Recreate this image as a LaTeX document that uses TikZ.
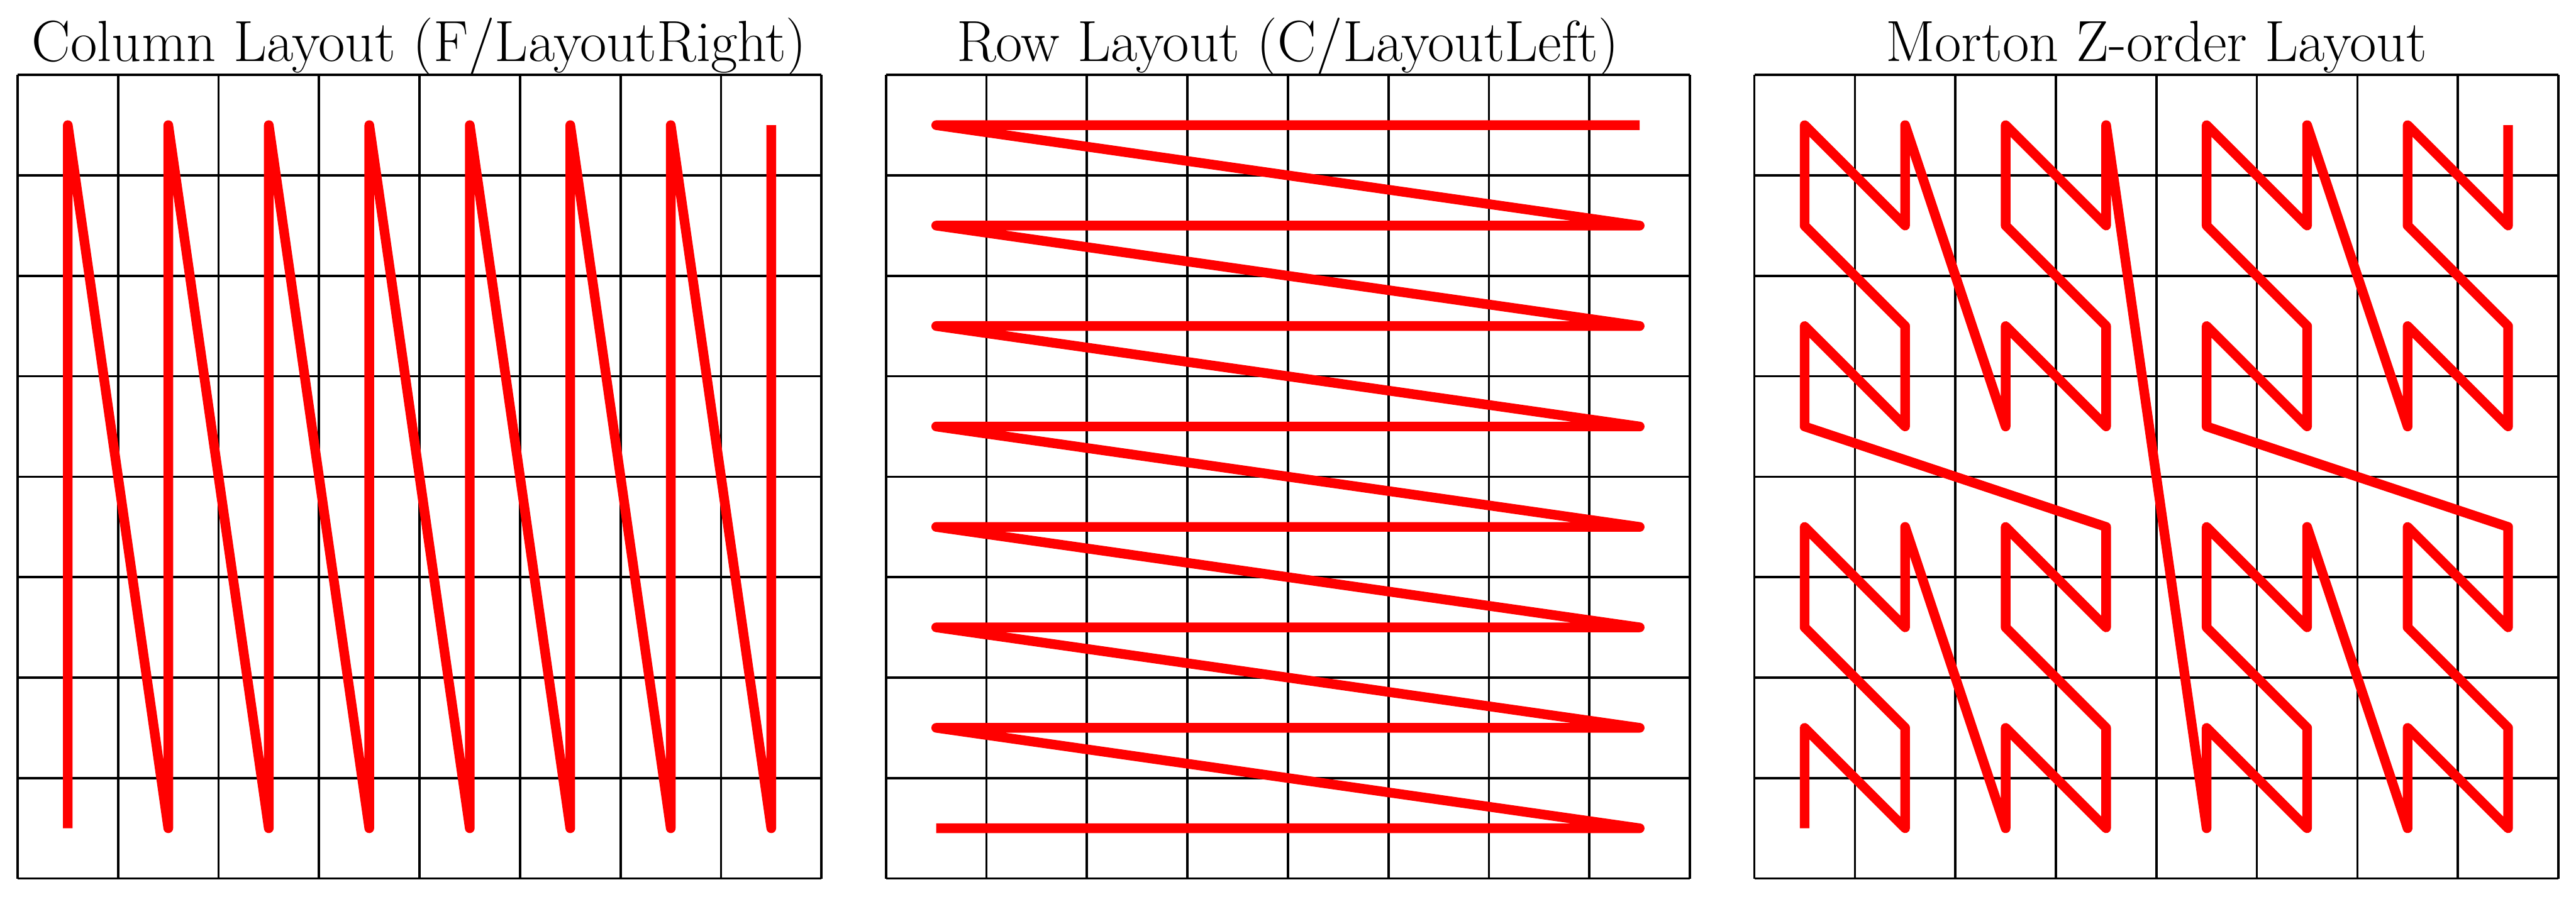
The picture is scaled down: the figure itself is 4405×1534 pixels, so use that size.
\documentclass[tikz,border=0pt]{standalone}
\tikzset{
  gridline/.style={black, line width=1.14pt},
  redpath/.style={red, line width=4.7pt, line join=round, line cap=butt},
  gtitle/.style={anchor=base, inner sep=0pt, font=\fontsize{28.2}{34}\selectfont},
}
\begin{document}
\begin{tikzpicture}[x=0.01cm,y=0.01cm]
\useasboundingbox (0,0) rectangle (4405,1534);
% titles
\node[gtitle] (coltitle) at (717,1429) {Column Layout (F/LayoutRight)};
\node[gtitle] (rowtitle) at (2202,1429) {Row Layout (C/LayoutLeft)};
\node[gtitle] (mortontitle) at (3687,1429) {Morton Z-order Layout};
% column layout
\begin{scope}[shift={(30,31)}, x=1.7175cm, y=1.7175cm]
  \draw[gridline] (0,0) grid[step={(1,1)}] (8,8);
  \draw[redpath] (0.5,0.5) -- (0.5,7.5)
    \foreach \i in {1,...,7} { -- (\i+0.5,0.5) -- (\i+0.5,7.5) };
\end{scope}
% row layout
\begin{scope}[shift={(1515,31)}, x=1.7175cm, y=1.7175cm]
  \draw[gridline] (0,0) grid[step={(1,1)}] (8,8);
  \draw[redpath] (0.5,0.5) -- (7.5,0.5)
    \foreach \j in {1,...,7} { -- (0.5,\j+0.5) -- (7.5,\j+0.5) };
\end{scope}
% morton layout
\begin{scope}[shift={(3000,31)}, x=1.7175cm, y=1.7175cm]
  \draw[gridline] (0,0) grid[step={(1,1)}] (8,8);
  \draw[redpath] (0.5,0.5)
    \foreach \k in {1,...,63} { -- ({mod(floor(\k/2),2)+2*mod(floor(\k/8),2)+4*mod(floor(\k/32),2)+0.5},
                                    {mod(\k,2)+2*mod(floor(\k/4),2)+4*mod(floor(\k/16),2)+0.5}) };
\end{scope}
\end{tikzpicture}
\end{document}
